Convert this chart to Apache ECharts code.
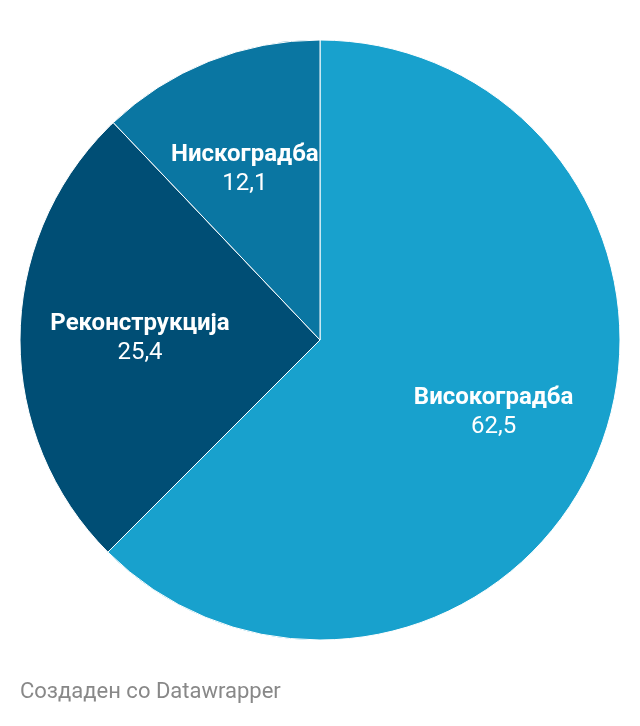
<!DOCTYPE html>
<html><head><meta charset="utf-8">
<script src="https://cdn.jsdelivr.net/npm/echarts@6/dist/echarts.min.js"></script>
<style>html,body{margin:0;padding:0;background:#fff;}#c{width:640px;height:726px;}</style>
</head><body><div id="c"></div>
<script>
const categories = ['Високоградба', 'Реконструкција', 'Нискоградба'];
const values = [62.5, 25.4, 12.1];
const colors = ['#18a1cd', '#004e75', '#0a76a2'];
const footer = 'Создаден со Datawrapper';

const chart = echarts.init(document.getElementById('c'));
const data = categories.map((c, i) => ({ name: c, value: values[i], itemStyle: { color: colors[i] } }));
const fmt = v => String(v).replace('.', ',');
const labelNudge = [[-1, 0], [9, 1], [-5, 5]];
chart.setOption({
  animation: false,
  graphic: [{ type: 'text', left: 20, top: 681, style: { text: footer, fill: '#888888', font: '22px Roboto' } }],
  series: [
    {
      type: 'pie', center: [320, 340], radius: [0, 300], startAngle: 90, clockwise: true,
      silent: true, label: { show: false }, labelLine: { show: false },
      itemStyle: { borderColor: '#ffffff', borderWidth: 1 },
      data: data
    },
    {
      type: 'pie', center: [320, 340], radius: [72, 300], startAngle: 90, clockwise: true,
      silent: true, labelLine: { show: false },
      itemStyle: { color: 'transparent', borderWidth: 0 },
      labelLayout: p => ({ dx: labelNudge[p.dataIndex][0], dy: labelNudge[p.dataIndex][1] }),
      label: {
        show: true, position: 'inside',
        formatter: p => '{n|' + p.name + '}\n{v|' + fmt(p.value) + '}',
        rich: {
          n: { fontFamily: 'Roboto', fontWeight: 'bold', fontSize: 24, color: '#ffffff', lineHeight: 29, align: 'center' },
          v: { fontFamily: 'Roboto', fontSize: 24, color: '#ffffff', lineHeight: 29, align: 'center' }
        }
      },
      data: categories.map((c, i) => ({ name: c, value: values[i] }))
    }
  ]
});
</script></body></html>
